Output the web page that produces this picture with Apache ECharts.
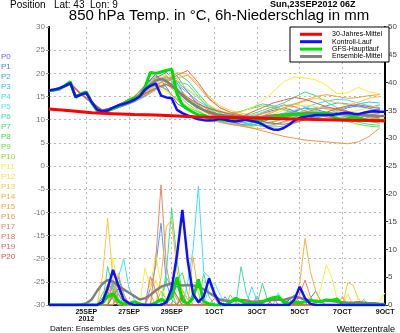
<!DOCTYPE html>
<html><head><meta charset="utf-8">
<script src="https://cdn.jsdelivr.net/npm/echarts@6/dist/echarts.min.js"></script>
<style>html,body{margin:0;padding:0;background:#fff}#c{width:400px;height:333px}</style>
</head><body><div id="c"></div>
<script>
// x axis: 6-hourly steps from 23SEP2012 06Z (index 0) to 09OCT2012 00Z (index 63)
const nSteps = 64;
const tickIndex = [7, 15, 23, 31, 39, 47, 55, 63];
const tickLabels = ['25SEP\n2012', '27SEP', '29SEP', '1OCT', '3OCT', '5OCT', '7OCT', '9OCT'];

// left axis: 850 hPa temperature (°C); right axis: 6h precipitation (mm)
const tempMin = -30, tempMax = 30, tempStep = 5;
const precMin = 0, precMax = 50, precStep = 5;

// bold series, 6-hourly temperature
const gfsTemp = [16.3,16.4,16.6,17.4,18.2,14.8,15.6,16.0,13.6,12.0,11.7,11.9,12.4,12.9,13.5,14.2,14.6,15.2,17.0,20.2,20.0,20.3,20.6,20.9,15.5,13.2,12.3,11.6,11.0,10.9,10.4,10.2,10.0,9.9,9.9,10.1,10.3,10.1,9.9,9.8,10.0,10.3,10.6,10.8,10.9,11.0,11.0,11.1,11.0,11.0,11.2,11.4,11.4,10.8,10.2,9.9,10.2,10.6,10.4,10.1,9.9,9.9,9.9,9.9];
const ctrlTemp = [16.3,16.5,16.8,17.3,17.9,14.9,15.4,15.8,13.8,12.2,11.8,12.0,12.6,13.1,13.4,13.8,14.3,15.0,16.5,17.3,17.8,15.2,14.8,14.6,12.1,11.4,10.9,10.5,10.1,9.9,9.8,9.9,10.2,10.0,9.7,9.6,9.8,10.0,9.7,9.5,9.0,8.3,7.9,7.8,8.2,8.9,9.8,10.4,10.6,10.8,11.0,11.0,11.0,11.0,11.2,11.4,11.5,11.3,11.2,11.5,11.7,11.8,11.7,11.7];
const meanTemp = [16.3,16.4,16.7,17.3,17.8,15.0,15.5,15.8,13.8,12.3,11.9,12.0,12.4,12.8,13.2,13.6,14.2,15.0,16.3,17.5,18.5,18.8,18.3,17.5,16.4,15.2,14.2,13.4,12.7,12.1,11.6,11.3,11.0,10.9,10.8,10.7,10.6,10.6,10.6,10.5,10.6,10.8,10.9,11.0,11.1,11.2,11.3,11.3,11.4,11.4,11.4,11.4,11.4,11.3,11.2,11.2,11.1,11.1,11.0,11.0,10.9,10.9,10.8,10.8];
// 30-year mean, daily values [step index, °C]
const climTemp = [[0,12.3],[4,11.9],[8,11.5],[12,11.3],[16,11.1],[20,11.0],[24,10.8],[28,10.6],[32,10.5],[36,10.4],[40,10.3],[44,10.2],[48,10.1],[52,10.0],[56,9.9],[60,9.8],[63,9.7]];

// bold series, 6-hourly precipitation
const gfsPrec = [0,0,0,0,0,0,0,0,0,0,0.3,1.5,2.0,0.6,0.2,0.3,0.6,0.2,0,0,0.4,1.0,0.6,1.5,5.0,0.8,0.2,1.2,4.6,0.6,0.2,0,0,0,0.5,1.2,0.7,0.2,0.4,0.2,0.5,1.0,1.3,1.5,0.5,0.3,0.5,0.4,0.6,0.8,0.7,0.6,0.9,0.8,1.1,0,0,0,0,0,0,0,0,0];
const ctrlPrec = [0,0,0,0,0,0,0,0,0,0,0.5,3.0,6.3,3.5,1.0,0.3,0,0,0,0,0,0,0.5,3.0,9.0,17.1,8.0,2.0,0.5,1.5,4.8,2.0,0.3,0,0,0,0,0,0,0,0,0,0,0,0,0,1.0,3.3,1.2,0.2,0,0,0,0,0,0,0,0,0,0,0,0,0,0];
const meanPrec = [0,0,0,0,0,0,0.1,0.3,1.0,2.5,3.8,4.5,4.2,3.5,2.8,2.2,1.6,1.0,1.2,1.8,2.6,3.3,3.6,3.9,3.8,3.5,3.6,3.5,3.3,2.8,2.2,1.6,1.0,0.8,0.7,0.8,0.9,0.8,0.6,0.6,0.7,0.8,0.9,1.0,0.9,1.2,1.5,1.3,1.0,0.8,0.6,0.7,0.9,0.7,0.6,0.5,0.4,0.4,0.5,0.4,0.3,0.3,0.2,0.2];

// ensemble members P0..P20
const memberNames = ['P0','P1','P2','P3','P4','P5','P6','P7','P8','P9','P10','P11','P12','P13','P14','P15','P16','P17','P18','P19','P20'];
const memberColors = ['#6a5cff','#3f7dff','#42a0ff','#3cc4ff','#40dcff','#5ee8e8','#3ee0a6','#40e080','#46e05a','#66e03c','#8ae022','#f4f040','#f8e244','#f8c844','#f8b040','#f8a040','#f09450','#f08464','#f07462','#e26262','#e25050'];
// member temperature, 12-hourly (step index 0,2,4,...,62)
const memberTemp = [
[16.3,16.5,17.6,15.6,13.5,12.0,12.6,13.5,14.0,17.5,19.8,17.0,13.5,12.0,11.2,10.5,10.0,9.6,9.0,8.8,9.5,10.4,11.0,11.8,12.5,12.2,11.6,11.0,10.6,11.2,11.9,12.2],
[16.4,16.6,17.9,15.4,13.8,11.8,12.2,13.0,14.5,16.8,19.0,20.2,18.0,14.0,12.5,11.8,11.0,10.2,9.8,10.5,11.3,12.0,12.5,11.9,11.0,10.4,10.8,11.6,12.6,13.0,12.4,12.0],
[16.2,16.7,18.1,15.5,13.6,11.9,12.5,13.3,13.9,15.2,17.5,18.6,19.5,16.0,13.0,11.2,10.5,10.0,9.4,9.0,8.6,8.9,9.6,10.5,11.4,12.4,13.0,13.6,13.4,12.8,12.6,13.2],
[16.3,16.5,17.7,15.7,13.9,12.1,12.3,13.6,14.6,16.0,18.4,19.0,17.6,15.8,14.0,12.6,11.6,11.2,11.8,12.6,13.4,13.0,12.2,11.5,11.0,10.6,11.2,12.0,12.8,13.4,13.8,13.6],
[16.3,16.6,17.8,15.4,13.7,12.0,12.7,13.8,15.0,16.9,18.0,19.6,16.8,14.2,12.0,10.4,9.6,9.0,8.7,9.2,10.0,10.8,11.4,12.0,12.6,13.4,14.0,14.4,14.2,13.6,13.0,12.6],
[16.4,16.6,17.6,15.6,13.5,12.2,12.4,13.4,14.4,15.8,17.6,18.8,17.8,16.4,14.6,12.8,11.8,11.0,10.4,10.8,11.6,12.4,13.0,13.4,12.8,12.0,11.4,11.0,10.8,11.2,11.6,11.8],
[16.3,16.5,17.9,15.5,13.8,11.9,12.2,13.0,13.8,15.0,16.4,17.4,18.2,17.6,15.0,12.4,11.0,10.2,9.6,9.0,8.6,8.4,8.6,9.2,10.0,10.6,11.0,10.6,10.0,9.4,9.0,8.8],
[16.3,16.7,17.8,15.6,13.6,11.8,12.3,13.2,14.2,16.2,17.8,16.4,14.4,12.8,11.6,10.8,10.2,9.8,10.4,11.2,12.0,12.8,13.6,14.8,16.0,15.2,13.8,12.6,11.8,11.0,10.4,10.0],
[16.2,16.6,17.7,15.5,13.7,12.1,12.6,13.4,14.0,15.6,17.2,18.6,20.0,18.4,15.6,13.0,11.4,10.6,10.0,9.4,9.2,9.6,10.4,11.2,12.0,12.6,12.4,11.8,11.0,10.2,9.6,9.2],
[16.3,16.5,17.8,15.4,13.6,12.0,12.5,13.6,14.8,17.0,19.2,18.0,15.6,13.4,11.8,10.6,9.8,9.2,8.8,8.6,8.9,9.4,10.2,11.0,11.6,11.8,11.2,10.4,9.6,9.0,8.6,8.4],
[16.3,16.6,17.9,15.6,13.8,11.9,12.4,13.2,14.0,15.4,16.8,17.6,16.2,14.6,13.2,12.2,11.6,11.4,11.8,12.4,13.0,12.6,12.0,11.4,11.0,10.8,10.6,10.4,10.6,11.0,11.4,11.6],
[16.3,16.6,17.7,15.5,13.6,12.0,12.4,13.8,15.2,16.4,17.0,16.0,14.2,12.8,12.0,11.2,10.8,11.0,11.6,12.6,14.0,16.0,18.2,19.2,19.0,18.6,17.4,15.6,15.8,17.0,16.0,15.6],
[16.4,16.6,17.8,15.4,13.7,11.9,12.6,13.4,14.2,16.6,18.8,19.8,18.8,16.6,14.8,13.2,12.0,11.2,10.8,10.4,10.6,11.2,12.0,12.8,13.2,12.8,12.2,11.8,11.6,12.0,12.6,13.0],
[16.3,16.5,17.8,15.6,13.6,12.1,12.3,13.3,14.0,15.4,17.0,18.8,20.2,19.8,17.6,15.0,13.0,12.0,11.4,11.0,11.2,11.8,12.4,13.2,14.0,14.6,14.2,13.6,13.2,13.8,14.6,15.0],
[16.3,16.7,17.9,15.5,13.8,12.0,12.5,13.5,14.6,16.8,18.6,19.4,17.2,14.8,12.6,11.2,10.2,9.4,8.8,8.2,8.0,8.6,9.4,10.2,10.8,11.0,10.6,10.2,9.8,9.6,10.0,10.4],
[16.2,16.6,17.7,15.4,13.6,11.8,12.2,13.0,14.0,15.8,17.6,18.4,19.0,19.6,17.2,14.4,12.6,11.6,11.0,10.6,10.8,11.6,12.6,13.4,14.2,15.0,15.4,15.0,14.6,14.8,15.2,15.4],
[16.3,16.5,17.8,15.6,13.7,12.0,12.4,13.6,14.8,16.4,17.8,16.6,14.2,12.4,11.0,10.0,9.4,9.0,8.6,8.2,7.6,7.0,6.4,6.0,5.6,5.4,5.2,5.0,4.8,5.2,6.4,8.2],
[16.3,16.6,17.9,15.5,13.6,12.0,12.6,13.6,14.4,16.0,18.0,19.2,18.4,16.0,13.6,12.0,11.0,10.4,10.0,10.4,11.4,12.4,13.2,12.8,11.8,11.0,10.6,10.2,10.0,10.4,11.0,11.4],
[16.4,16.6,17.7,15.4,13.8,11.9,12.3,13.2,14.0,15.2,16.6,18.0,19.6,20.6,18.0,14.6,12.6,11.6,11.0,10.6,10.2,10.0,10.4,11.0,11.6,12.2,12.6,12.4,11.8,11.2,10.8,10.6],
[16.3,16.5,17.8,15.6,13.6,12.1,12.7,13.8,15.0,17.4,19.4,18.2,16.0,14.0,12.4,11.4,10.6,10.2,10.6,11.6,12.6,13.6,14.2,14.8,14.4,13.6,12.8,12.2,11.6,11.0,10.6,10.4],
[16.3,16.6,17.8,15.5,13.7,12.0,12.4,13.4,14.2,15.6,16.8,17.6,16.4,14.8,13.4,12.4,11.8,11.2,10.8,10.2,9.6,9.2,9.0,9.4,10.0,10.8,11.6,12.4,13.0,13.2,12.8,12.4]
];
// member precipitation as [step index, mm]; zero between listed points
const memberPrec = [
[[0,0],[9,0],[11,2.5],[12,4.0],[13,1.0],[14,0],[22,0],[24,3.5],[25,1.0],[26,0],[44,0],[46,1.8],[47,0.4],[48,0],[63,0]],
[[0,0],[10,0],[12,3.2],[13,5.0],[14,2.0],[15,0],[26,0],[27,2.2],[28,0.8],[29,0],[48,0],[50,2.5],[51,0.6],[52,0],[63,0]],
[[0,0],[18,0],[19,3.0],[20,7.0],[21,14.7],[22,4.0],[23,1.0],[24,0],[32,0],[33,1.5],[34,0],[63,0]],
[[0,0],[10,0],[11,2.0],[12,3.8],[13,1.2],[14,0],[24,0],[25,2.6],[26,1.0],[27,0],[38,0],[39,1.6],[40,0],[63,0]],
[[0,0],[11,0],[12,2.0],[13,5.0],[14,8.3],[15,3.0],[16,1.0],[17,0],[25,0],[26,4.0],[27,10.0],[28,21.4],[29,6.0],[30,5.1],[31,2.5],[32,0.5],[33,0],[37,0],[38,3.3],[39,0.8],[40,0],[63,0]],
[[0,0],[12,0],[13,2.4],[14,1.0],[15,0],[29,0],[30,3.0],[31,4.0],[32,2.0],[33,0],[42,0],[43,2.2],[44,0],[63,0]],
[[0,0],[10,0],[11,3.5],[12,4.6],[13,2.0],[14,0],[21,0],[22,5.0],[23,3.0],[24,1.0],[25,0],[35,0],[36,6.9],[37,2.0],[38,0],[63,0]],
[[0,0],[10,0],[11,6.9],[12,3.0],[13,1.0],[14,0],[21,0],[22,6.0],[23,17.4],[24,8.0],[25,2.0],[26,0],[28,0],[29,5.7],[30,1.5],[31,0],[39,0],[40,3.9],[41,0.8],[42,0],[63,0]],
[[0,0],[11,0],[12,2.6],[13,4.2],[14,1.2],[15,0],[23,0],[24,4.5],[25,5.8],[26,2.0],[27,0],[44,0],[45,1.2],[46,0],[58,0],[59,1.0],[60,0],[63,0]],
[[0,0],[9,0],[10,2.0],[11,3.4],[12,1.5],[13,0],[20,0],[21,2.5],[22,1.0],[23,0],[33,0],[34,1.8],[35,0.5],[36,0],[63,0]],
[[0,0],[11,0],[12,1.8],[13,0.6],[14,0],[24,0],[25,1.4],[26,0],[47,0],[48,0.8],[49,0],[63,0]],
[[0,0],[11,0],[12,8.5],[13,3.0],[14,0.5],[15,0],[17,0],[18,6.7],[19,3.0],[20,9.3],[21,3.5],[22,1.0],[23,0],[50,0],[51,3.3],[52,7.2],[53,5.0],[54,1.0],[55,0],[57,0],[58,1.2],[59,0],[61,0],[62,0.8],[63,2.2]],
[[0,0],[10,0],[11,2.5],[12,1.5],[13,0],[19,0],[20,4.5],[21,2.0],[22,0],[46,0],[47,1.5],[48,2.6],[49,0.6],[50,0],[55,0],[56,2.0],[57,0],[63,0]],
[[0,0],[9,0],[10,5.0],[11,15.6],[12,4.5],[13,1.0],[14,0],[24,0],[25,2.8],[26,1.0],[27,0],[55,0],[56,4.0],[57,3.6],[58,1.0],[59,0],[63,0]],
[[0,0],[12,0],[13,5.7],[14,2.0],[15,0],[20,0],[21,5.0],[22,14.1],[23,15.3],[24,6.0],[25,2.0],[26,0],[27,8.7],[28,2.0],[29,0],[46,0],[47,4.0],[48,12.0],[49,6.0],[50,2.5],[51,0.5],[52,0],[63,0]],
[[0,0],[10,0],[11,3.0],[12,2.0],[13,0],[22,0],[23,3.5],[24,1.5],[25,0],[40,0],[41,1.0],[42,0],[54,0],[55,1.5],[56,0],[63,0]],
[[0,0],[11,0],[12,4.4],[13,3.0],[14,1.0],[15,0],[18,0],[19,2.0],[20,0],[38,0],[39,1.3],[40,0],[63,0]],
[[0,0],[10,0],[11,3.8],[12,2.6],[13,0.8],[14,0],[19,0],[20,8.0],[21,21.6],[22,7.0],[23,2.0],[24,0],[46,0],[47,2.0],[48,4.5],[49,1.5],[50,0],[63,0]],
[[0,0],[12,0],[13,2.0],[14,0.6],[15,0],[18,0],[19,5.1],[20,2.5],[21,0],[30,0],[31,1.2],[32,0],[63,0]],
[[0,0],[10,0],[11,2.4],[12,1.0],[13,0],[22,0],[23,3.2],[24,1.6],[25,0],[41,0],[42,1.4],[43,0],[63,0]],
[[0,0],[11,0],[12,1.6],[13,3.0],[14,0.8],[15,0],[24,0],[25,1.8],[26,0],[63,0]]
];

const FONT = 'Liberation Sans';
const categories = Array.from({length: nSteps}, (_, i) => 't' + i);
const labelAt = {};
tickIndex.forEach((k, j) => { labelAt[k] = tickLabels[j]; });

const series = [];
memberNames.forEach((n, m) => {
  series.push({
    name: n, type: 'line', yAxisIndex: 0, symbol: 'none', silent: true,
    lineStyle: {width: 1, color: memberColors[m]}, itemStyle: {color: memberColors[m]},
    data: memberTemp[m].map((v, i) => [i * 2, v])
  });
  series.push({
    name: n, type: 'line', yAxisIndex: 1, symbol: 'none', silent: true,
    lineStyle: {width: 1, color: memberColors[m]}, itemStyle: {color: memberColors[m]},
    data: memberPrec[m]
  });
});
function bold(name, color, width, axis, data) {
  series.push({name, type: 'line', yAxisIndex: axis, symbol: 'none', silent: true,
    lineStyle: {width, color}, itemStyle: {color}, data});
}
bold('Ensemble-Mittel', '#808080', 2.5, 1, meanPrec);
bold('GFS-Hauptlauf', '#00dd00', 3, 1, gfsPrec);
bold('Kontroll-Lauf', '#1010ff', 2.5, 1, ctrlPrec);
bold('Ensemble-Mittel', '#808080', 2.5, 0, meanTemp);
bold('GFS-Hauptlauf', '#00dd00', 3, 0, gfsTemp);
bold('Kontroll-Lauf', '#1010ff', 2.5, 0, ctrlTemp);
bold('30-Jahres-Mittel', '#ff0000', 3, 0, climTemp);

const grid = {left: 49, right: 11, top: 27, bottom: 28};
const option = {
  animation: false,
  backgroundColor: '#fff',
  textStyle: {fontFamily: FONT},
  grid,
  xAxis: {
    type: 'category', data: categories, boundaryGap: false,
    axisLine: {onZero: false, lineStyle: {color: '#000', width: 2}},
    axisTick: {show: false},
    axisLabel: {
      interval: (i) => labelAt[i] !== undefined,
      formatter: (v, i) => labelAt[i] || '',
      fontSize: 7, fontWeight: 'bold', color: '#111', margin: 4, lineHeight: 7, fontFamily: FONT
    },
    splitLine: {show: true, interval: (i) => labelAt[i] !== undefined && i !== 63,
      lineStyle: {color: '#b8b8b8', type: [2, 3], width: 1}}
  },
  yAxis: [{
    type: 'value', min: tempMin, max: tempMax, interval: tempStep, position: 'left',
    axisLine: {show: true, lineStyle: {color: '#000', width: 2}},
    axisTick: {show: true, length: 3, lineStyle: {color: '#999'}},
    axisLabel: {fontSize: 8, color: '#777', margin: 4, fontFamily: FONT},
    splitLine: {show: true, showMinLine: false, showMaxLine: false,
      lineStyle: {color: '#b8b8b8', type: [2, 3], width: 1}}
  }, {
    type: 'value', min: precMin, max: precMax, interval: precStep, position: 'right',
    axisLine: {show: true, lineStyle: {color: '#000', width: 2}},
    axisTick: {show: true, length: 3, lineStyle: {color: '#333'}},
    axisLabel: {fontSize: 8, color: '#444', margin: 3, fontFamily: FONT},
    splitLine: {show: false}
  }],
  legend: [{
    data: ['30-Jahres-Mittel', 'Kontroll-Lauf', 'GFS-Hauptlauf', 'Ensemble-Mittel'],
    orient: 'vertical', left: 300, top: 30.6, itemWidth: 22, itemHeight: 3, itemGap: 0,
    icon: 'rect', selectedMode: false, z: 20, padding: 0,
    textStyle: {fontSize: 7, lineHeight: 7.4, color: '#000', padding: [0, 0, 0, 5], fontFamily: FONT}
  }, {
    data: memberNames.map((n, m) => ({name: n, icon: 'none', textStyle: {color: memberColors[m]}})),
    orient: 'vertical', left: -4, top: 52, itemWidth: 0, itemHeight: 8, itemGap: 0,
    selectedMode: false, z: 20, padding: 0,
    textStyle: {fontSize: 8, lineHeight: 10, fontFamily: FONT}
  }],
  graphic: [
    {type: 'rect', z: 15, shape: {x: 290, y: 27, width: 99, height: 35},
     style: {fill: '#fff', stroke: '#000', lineWidth: 1}},
    {type: 'text', z: 15, x: 10, y: 0, style: {text: 'Position   Lat: 43  Lon: 9', font: '10px ' + FONT, fill: '#000'}},
    {type: 'text', z: 15, x: 270, y: 0, style: {text: 'Sun,23SEP2012 06Z', font: 'bold 9px ' + FONT, fill: '#000'}},
    {type: 'text', z: 15, x: 219, y: 16, style: {text: '850 hPa Temp. in °C, 6h-Niederschlag in mm', font: '15px ' + FONT, fill: '#000', textAlign: 'center', textVerticalAlign: 'middle'}},
    {type: 'text', z: 15, x: 50, y: 325, style: {text: 'Daten: Ensembles des GFS von NCEP', font: '8px ' + FONT, fill: '#000'}},
    {type: 'text', z: 15, x: 395, y: 325, style: {text: 'Wetterzentrale', font: '9px ' + FONT, fill: '#000', textAlign: 'right'}}
  ],
  series
};
const chart = echarts.init(document.getElementById('c'), null, {renderer: 'canvas'});
chart.setOption(option);
</script></body></html>
